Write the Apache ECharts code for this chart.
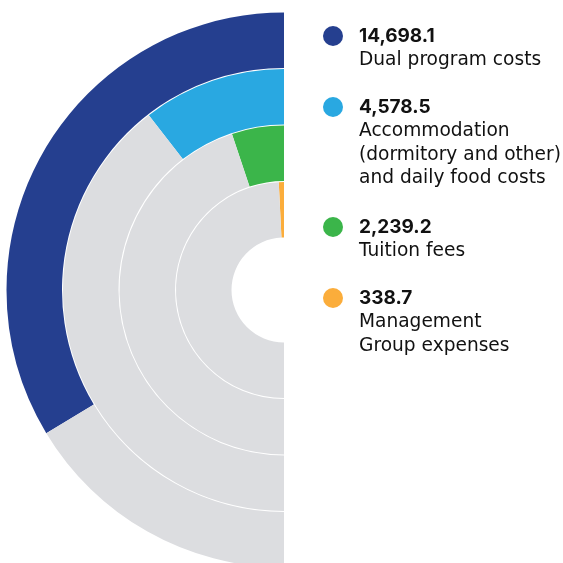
<!DOCTYPE html>
<html>
<head>
<meta charset="utf-8">
<style>html,body{margin:0;padding:0;background:#fff;}#c{width:563px;height:563px;}</style>
<script src="https://cdn.jsdelivr.net/npm/echarts@6/dist/echarts.min.js"></script>
</head>
<body>
<div id="c"></div>
<script>
const categories = ['Dual program costs', 'Accommodation (dormitory and other) and daily food costs', 'Tuition fees', 'Management Group expenses'];
const values = [14698.1, 4578.5, 2239.2, 338.7];
const labelLines = [
  ['Dual program costs'],
  ['Accommodation', '(dormitory and other)', 'and daily food costs'],
  ['Tuition fees'],
  ['Management', 'Group expenses']
];
const colors = ['#253f8f', '#29a8e1', '#3bb54a', '#fbad3b'];
const trackColor = '#dcdde0';

const total = values.reduce((a, b) => a + b, 0);
const fmt = v => v.toLocaleString('en-US', {minimumFractionDigits: 1, maximumFractionDigits: 1});

// legend layout (positions only)
const legendTop = [25, 96, 216, 287];
const dotY = [36, 107, 227, 298];

const chart = echarts.init(document.getElementById('c'), null, {renderer: 'canvas'});

const graphics = [];
values.forEach((v, i) => {
  graphics.push({
    type: 'circle', shape: {cx: 333, cy: dotY[i], r: 10},
    style: {fill: colors[i]}
  });
  graphics.push({
    type: 'text', x: 359, y: legendTop[i],
    style: {
      text: '{v|' + fmt(v) + '}\n' + labelLines[i].map(l => '{l|' + l + '}').join('\n'),
      rich: {
        v: {fontFamily: 'Inter', fontWeight: 'bold', fontSize: 19, lineHeight: 23.5, fill: '#111'},
        l: {fontFamily: 'DejaVu Sans', fontWeight: 'normal', fontSize: 18.6, lineHeight: 23.5, fill: '#111'}
      }
    }
  });
});

chart.setOption({
  animation: false,
  polar: {center: [284, 290], radius: [52, 278]},
  angleAxis: {type: 'value', min: 0, max: total * 2, startAngle: 90, clockwise: false, show: false},
  radiusAxis: {type: 'category', data: categories, inverse: true, show: false},
  series: [
    {
      type: 'bar', coordinateSystem: 'polar', stack: 's', barWidth: 55.5,
      data: values.map((v, i) => ({value: v, itemStyle: {color: colors[i]}}))
    },
    {
      type: 'bar', coordinateSystem: 'polar', stack: 's', barWidth: 55.5,
      data: values.map(v => total - v),
      itemStyle: {color: trackColor}
    }
  ],
  graphic: graphics
});
</script>
</body>
</html>
